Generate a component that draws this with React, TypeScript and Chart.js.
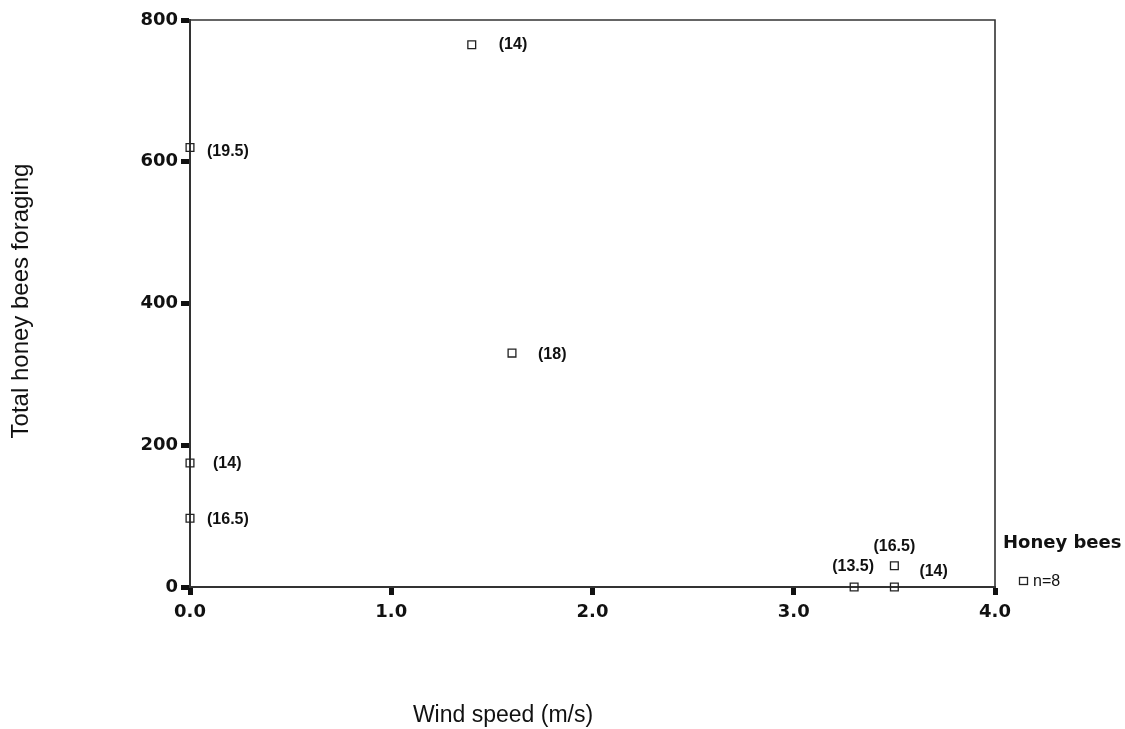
import React, { useEffect, useRef } from "react";
import { Chart, registerables } from "chart.js";

Chart.register(...registerables);

// Data
const windSpeed = [1.4, 0, 1.6, 0, 0, 3.3, 3.5, 3.5];
const beesForaging = [765, 620, 330, 175, 97, 0, 30, 0];
const tempLabels = ["(14)", "(19.5)", "(18)", "(14)", "(16.5)", "(13.5)", "(16.5)", "(14)"];
const xTickValues = [0, 1, 2, 3, 4];
const yTickValues = [0, 200, 400, 600, 800];
const xTitle = "Wind speed (m/s)";
const yTitle = "Total honey bees foraging";
const legendTitle = "Honey bees";
const legendLabel = "n=8";

// Label placement (style only)
const labelPlacement = [
  { dx: 27, dy: 0, align: "left" },
  { dx: 17, dy: 4, align: "left" },
  { dx: 26, dy: 1, align: "left" },
  { dx: 23, dy: 1, align: "left" },
  { dx: 17, dy: 1, align: "left" },
  { dx: -1, dy: -20, align: "center" },
  { dx: 0, dy: -19, align: "center" },
  { dx: 25, dy: -15, align: "left" },
];

const FONT = "'Liberation Sans', Arial, Helvetica, sans-serif";
const WIDE = "'DejaVu Sans', 'Liberation Sans', sans-serif";

const decorPlugin = {
  id: "decor",
  beforeDatasetsDraw(chart: any) {
    const { ctx, chartArea } = chart;
    ctx.save();
    ctx.strokeStyle = "#333";
    ctx.lineWidth = 1.6;
    ctx.beginPath();
    ctx.moveTo(chartArea.left, chartArea.top);
    ctx.lineTo(chartArea.right, chartArea.top);
    ctx.lineTo(chartArea.right, chartArea.bottom);
    ctx.stroke();
    ctx.restore();
  },
  afterDatasetsDraw(chart: any) {
    const { ctx } = chart;
    const meta = chart.getDatasetMeta(0);
    ctx.save();
    ctx.fillStyle = "#111";
    ctx.font = `bold 16px ${FONT}`;
    ctx.textBaseline = "middle";
    meta.data.forEach((pt: any, i: number) => {
      const p = labelPlacement[i];
      ctx.textAlign = p.align;
      ctx.fillText(tempLabels[i], pt.x + p.dx, pt.y + p.dy);
    });

    // Legend
    ctx.textAlign = "left";
    ctx.font = `bold 18px ${WIDE}`;
    ctx.fillText(legendTitle, 1003, 543);
    ctx.strokeStyle = "#222";
    ctx.lineWidth = 1.3;
    ctx.strokeRect(1019.5, 577.5, 8, 7);
    ctx.font = `16px ${FONT}`;
    ctx.fillText(legendLabel, 1033, 582);

    // Axis titles
    ctx.textAlign = "center";
    ctx.textBaseline = "alphabetic";
    ctx.font = `23px ${FONT}`;
    ctx.fillText(xTitle, 503, 722);
    ctx.font = `24px ${FONT}`;
    ctx.save();
    ctx.translate(28, 301);
    ctx.rotate(-Math.PI / 2);
    ctx.fillText(yTitle, 0, 0);
    ctx.restore();
    ctx.restore();
  },
};

export default function App() {
  const ref = useRef<HTMLCanvasElement>(null);

  useEffect(() => {
    if (!ref.current) return;
    const chart = new Chart(ref.current, {
      type: "scatter",
      data: {
        datasets: [
          {
            label: legendTitle,
            data: windSpeed.map((x, i) => ({ x, y: beesForaging[i] })),
            pointStyle: "rect",
            pointRadius: 5.5,
            pointHoverRadius: 5.5,
            borderColor: "#222",
            borderWidth: 1.3,
            backgroundColor: "rgba(0,0,0,0)",
            clip: false,
          } as any,
        ],
      },
      options: {
        responsive: false,
        animation: false,
        devicePixelRatio: 1,
        layout: { padding: { left: 0, top: 20, right: 130, bottom: 0 } },
        plugins: {
          legend: { display: false },
          tooltip: { enabled: false },
          title: { display: false },
        },
        scales: {
          x: {
            type: "linear",
            min: 0,
            max: 4,
            afterBuildTicks: (s: any) => {
              s.ticks = xTickValues.map((v) => ({ value: v }));
            },
            afterFit: (s: any) => {
              s.height = 142;
            },
            ticks: {
              callback: (v: any) => Number(v).toFixed(1),
              font: { family: WIDE, size: 18, weight: "bold" },
              color: "#111",
              padding: 7,
              maxRotation: 0,
            },
            grid: {
              drawOnChartArea: false,
              drawTicks: true,
              tickLength: 8,
              tickWidth: 5,
              tickColor: "#111",
            },
            border: { display: true, color: "#333", width: 2 },
          },
          y: {
            type: "linear",
            min: 0,
            max: 800,
            afterBuildTicks: (s: any) => {
              s.ticks = yTickValues.map((v) => ({ value: v }));
            },
            afterFit: (s: any) => {
              s.width = 190;
            },
            ticks: {
              font: { family: WIDE, size: 18, weight: "bold" },
              color: "#111",
              padding: 3,
            },
            grid: {
              drawOnChartArea: false,
              drawTicks: true,
              tickLength: 9,
              tickWidth: 5,
              tickColor: "#111",
            },
            border: { display: true, color: "#333", width: 2 },
          },
        },
      } as any,
      plugins: [decorPlugin],
    });
    return () => chart.destroy();
  }, []);

  return (
    <div style={{ position: "absolute", left: 0, top: 0, width: 1125, height: 729, background: "#fff" }}>
      <canvas ref={ref} width={1125} height={729} style={{ display: "block" }} />
    </div>
  );
}
